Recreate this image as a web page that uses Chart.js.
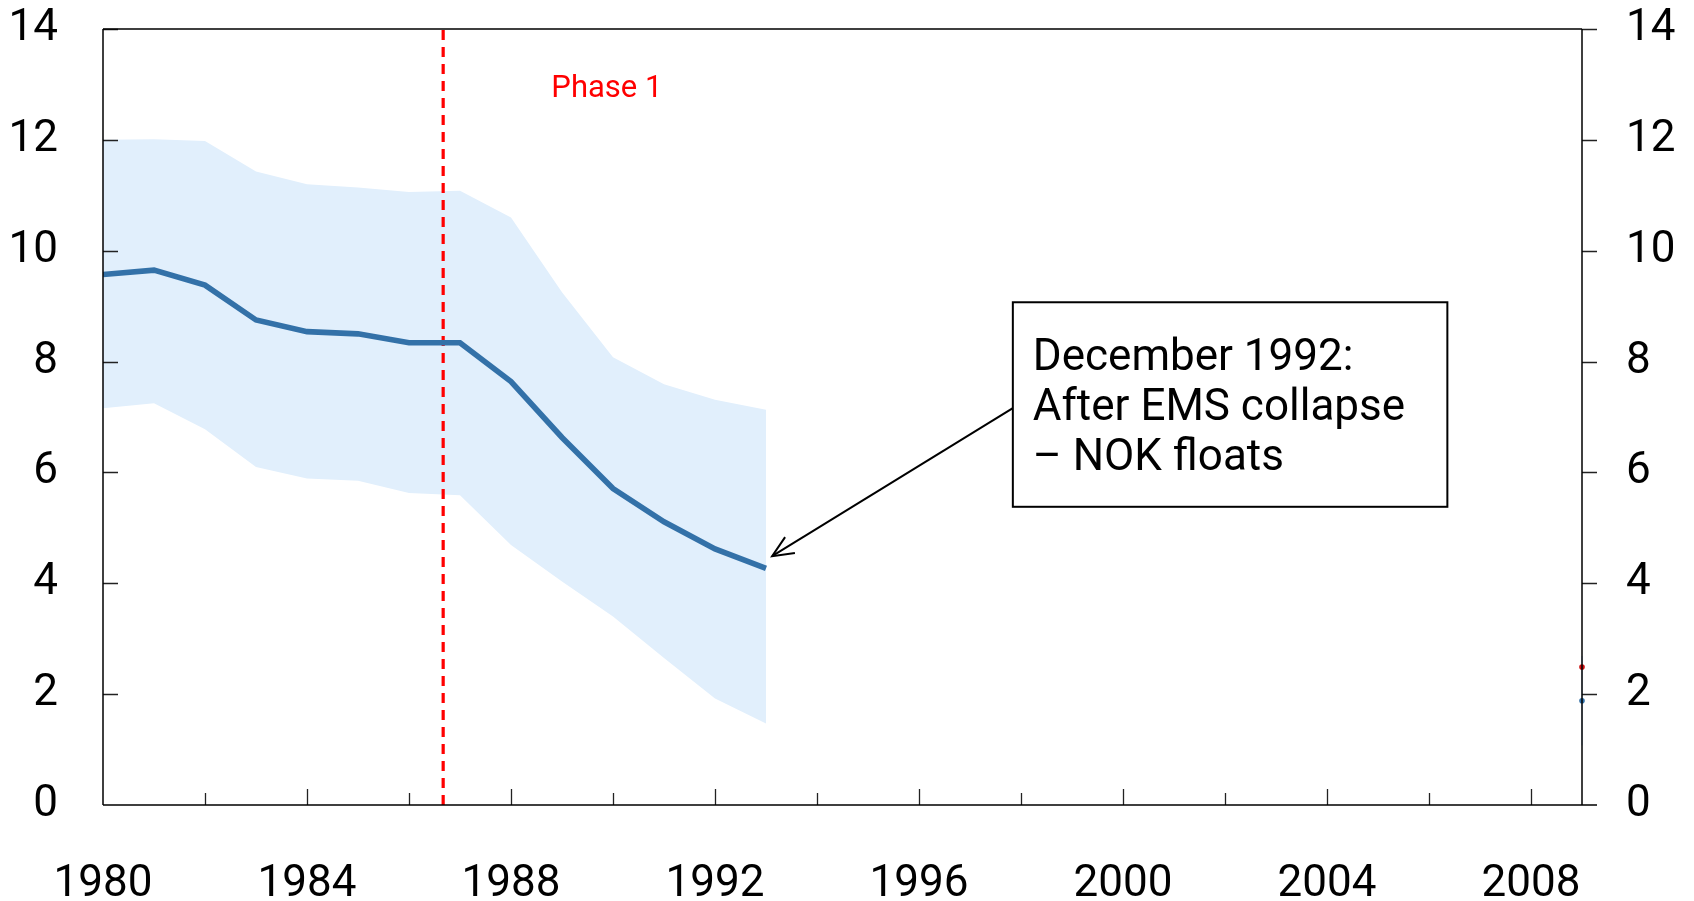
<!DOCTYPE html>
<html><head><meta charset="utf-8">
<script src="https://cdn.jsdelivr.net/npm/chart.js@4.4.0/dist/chart.umd.min.js"></script>
<style>html,body{margin:0;padding:0;background:#fff}canvas{display:block}</style>
</head><body>
<canvas id="c" width="1694" height="901"></canvas>
<script>
// ---- data ----
const years        = [1980,1981,1982,1983,1984,1985,1986,1987,1988,1989,1990,1991,1992,1993];
const centralPath  = [9.57,9.65,9.38,8.75,8.54,8.50,8.34,8.34,7.64,6.63,5.71,5.11,4.62,4.27];
const upperBand    = [12.00,12.01,11.98,11.43,11.20,11.14,11.06,11.08,10.60,9.25,8.08,7.59,7.31,7.13];
const lowerBand    = [7.16,7.25,6.78,6.10,5.89,5.85,5.63,5.59,4.69,4.03,3.40,2.65,1.92,1.47];
const endYear      = [2009];
const endBandLow   = [1.08];
const endBandHigh  = [2.69];
const endCentral   = [1.88];
const endActual    = [2.49];
const phaseYear    = [1986.67];
const xTickLabels  = [1980,1984,1988,1992,1996,2000,2004,2008];
const xMinorTicks  = [1982,1984,1986,1988,1990,1992,1994,1996,1998,2000,2002,2004,2006,2008];
const yTickLabels  = [0,2,4,6,8,10,12,14];
const phaseLabel   = 'Phase 1';
const noteLines    = ['December 1992:','After EMS collapse','\u2013 NOK floats'];

const FONT = 'Roboto, "Liberation Sans", sans-serif';

const pts = (xs, ys) => xs.map((v, i) => ({x: v, y: ys[i]}));

const overlay = {
  id: 'overlay',
  afterDatasetsDraw(chart) {
    const {ctx, chartArea: a, scales: {x, y}} = chart;
    ctx.save();
    // ticks
    ctx.strokeStyle = '#222'; ctx.lineWidth = 1.3;
    ctx.beginPath();
    yTickLabels.forEach(v => {
      if (v === 0) return;
      const py = Math.round(y.getPixelForValue(v)) + 0.5;
      ctx.moveTo(a.left, py); ctx.lineTo(a.left + 15, py);
      ctx.moveTo(a.right, py); ctx.lineTo(a.right + 15, py);
    });
    xMinorTicks.forEach(v => {
      const px = Math.round(x.getPixelForValue(v)) + 0.5;
      const len = (v % 4 === 0) ? 16 : 12;
      ctx.moveTo(px, a.bottom); ctx.lineTo(px, a.bottom - len);
    });
    ctx.stroke();
    // frame
    ctx.strokeStyle = '#000'; ctx.lineWidth = 1.5;
    ctx.beginPath();
    ctx.moveTo(a.left, a.top); ctx.lineTo(a.right, a.top);
    ctx.moveTo(a.left, a.top); ctx.lineTo(a.left, a.bottom);
    ctx.moveTo(a.right, a.top); ctx.lineTo(a.right, a.bottom);
    ctx.moveTo(a.left, a.bottom); ctx.lineTo(a.right + 15, a.bottom);
    ctx.stroke();

    // Phase label
    ctx.fillStyle = '#ff0000';
    ctx.font = '400 31px ' + FONT;
    ctx.textAlign = 'center'; ctx.textBaseline = 'middle';
    ctx.fillText(phaseLabel, x.getPixelForValue(1989.88), y.getPixelForValue(12.92));

    // arrow
    const x0 = x.getPixelForValue(1997.84), y0 = y.getPixelForValue(7.16);
    const x1 = x.getPixelForValue(1993.12), y1 = y.getPixelForValue(4.49);
    ctx.strokeStyle = '#000'; ctx.lineWidth = 2;
    ctx.beginPath(); ctx.moveTo(x0, y0); ctx.lineTo(x1, y1); ctx.stroke();
    const ang = Math.atan2(y0 - y1, x0 - x1);
    const hl = 23, hw = 0.42;
    ctx.beginPath();
    ctx.moveTo(x1 + hl * Math.cos(ang - hw), y1 + hl * Math.sin(ang - hw));
    ctx.lineTo(x1, y1);
    ctx.lineTo(x1 + hl * Math.cos(ang + hw), y1 + hl * Math.sin(ang + hw));
    ctx.stroke();

    // note box
    const bl = x.getPixelForValue(1997.84), br = x.getPixelForValue(2006.36);
    const bt = y.getPixelForValue(9.07), bb = y.getPixelForValue(5.38);
    ctx.fillStyle = '#fff';
    ctx.fillRect(bl, bt, br - bl, bb - bt);
    ctx.strokeStyle = '#000'; ctx.lineWidth = 2;
    ctx.strokeRect(bl, bt, br - bl, bb - bt);
    ctx.fillStyle = '#000';
    ctx.font = '400 44px ' + FONT;
    ctx.textAlign = 'left'; ctx.textBaseline = 'alphabetic';
    noteLines.forEach((t, i) => ctx.fillText(t, bl + 20, bt + 68 + i * 50));
    ctx.restore();
  }
};

const tickFont = {family: FONT, size: 44, weight: '400'};
const noPad = s => { s.paddingTop = 0; s.paddingBottom = 0; };

new Chart(document.getElementById('c'), {
  type: 'line',
  data: {
    datasets: [
      {data: pts(years, upperBand), borderWidth: 0, pointRadius: 0, fill: '+1',
       backgroundColor: 'rgb(225,239,252)', borderColor: 'rgba(0,0,0,0)', order: 10},
      {data: pts(years, lowerBand), borderWidth: 0, pointRadius: 0, fill: false,
       borderColor: 'rgba(0,0,0,0)', order: 11},
      {data: pts(years, centralPath), borderColor: '#3371a8', borderWidth: 5.6,
       pointRadius: 0, fill: false, order: 1, borderJoinStyle: 'miter'},
      {data: [{x: endYear[0], y: endBandLow[0]}, {x: endYear[0], y: endBandHigh[0]}],
       borderColor: 'rgb(214,231,250)', borderWidth: 2, pointRadius: 0, fill: false, clip: false, order: 5},
      {data: pts(endYear, endCentral), showLine: false, pointRadius: 2.8,
       pointBackgroundColor: '#3371a8', pointBorderWidth: 0, clip: false, order: 4},
      {data: pts(endYear, endActual), showLine: false, pointRadius: 2.8,
       pointBackgroundColor: '#cc1010', pointBorderWidth: 0, clip: false, order: 4},
      {data: [{x: phaseYear[0], y: 0}, {x: phaseYear[0], y: 14}], borderColor: '#ff0000',
       borderWidth: 3.2, borderDash: [10, 7], pointRadius: 0, fill: false, order: 2}
    ]
  },
  options: {
    responsive: false, animation: false,
    layout: {padding: {top: 29, left: 0, right: 0, bottom: 0}},
    plugins: {legend: {display: false}, tooltip: {enabled: false}},
    scales: {
      x: {type: 'linear', min: 1980, max: 2009,
        afterBuildTicks: s => { s.ticks = xTickLabels.map(v => ({value: v})); },
        afterFit: s => { s.height = 96; s.paddingLeft = 0; s.paddingRight = 0; },
        ticks: {font: tickFont, color: '#000', padding: 54, maxRotation: 0, autoSkip: false,
                callback: v => String(v)},
        grid: {display: false, drawTicks: false}, border: {display: false}},
      y: {position: 'left', min: 0, max: 14,
        afterBuildTicks: s => { s.ticks = yTickLabels.map(v => ({value: v})); },
        afterFit: s => { s.width = 103; noPad(s); },
        ticks: {font: tickFont, color: '#000', padding: 45, callback: v => String(v)},
        grid: {display: false, drawTicks: false}, border: {display: false}},
      y2: {position: 'right', min: 0, max: 14,
        afterBuildTicks: s => { s.ticks = yTickLabels.map(v => ({value: v})); },
        afterFit: s => { s.width = 112; noPad(s); },
        ticks: {font: tickFont, color: '#000', padding: 44, callback: v => String(v)},
        grid: {display: false, drawTicks: false}, border: {display: false}}
    }
  },
  plugins: [overlay]
});
</script>
</body></html>
